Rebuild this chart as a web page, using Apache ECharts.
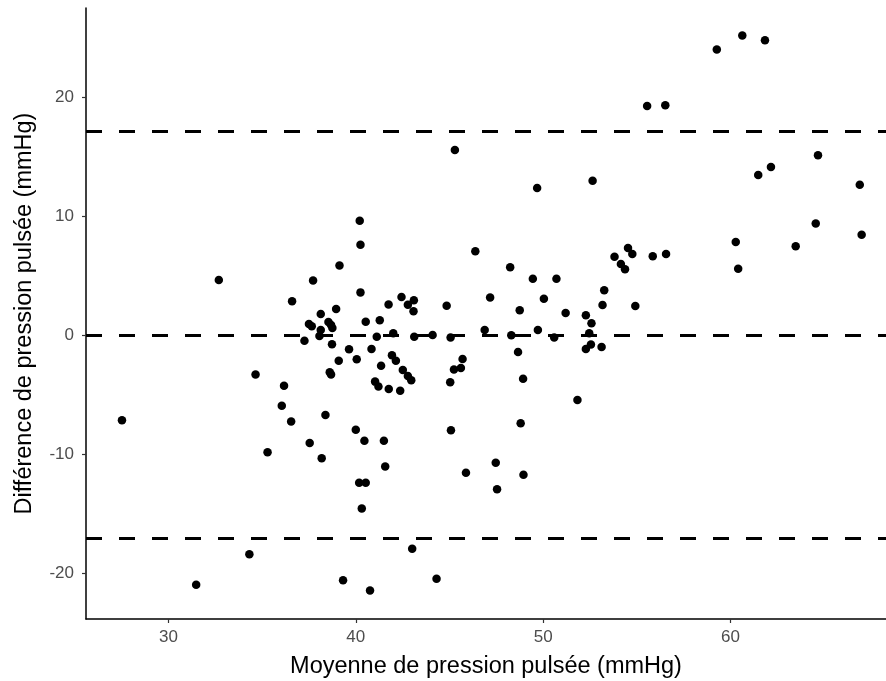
<!DOCTYPE html>
<html>
<head>
<meta charset="utf-8">
<script src="https://cdn.jsdelivr.net/npm/echarts@6/dist/echarts.min.js"></script>
<style>
html,body{margin:0;padding:0;background:#fff;}
#chart{width:886px;height:681px;}
</style>
</head>
<body>
<div id="chart"></div>
<script>
// Mean of pulse pressure (x) and difference (y)
const meanPP = [
  32.69, 34.65, 27.52, 35.29,
  40.21, 40.25, 39.13, 37.72, 40.25, 36.60, 41.75, 42.44, 43.10, 42.78,
  43.08, 38.95, 38.13, 44.85, 46.38, 37.50, 37.65, 38.54, 38.68, 38.75,
  38.13, 38.06, 40.53, 41.28, 41.12, 42.00, 43.12, 44.10, 45.06, 37.26,
  38.73, 39.64, 40.84, 40.05, 39.09, 41.93, 42.14, 41.35, 42.51, 42.78,
  42.96, 38.61, 38.68, 41.03, 41.21, 41.76, 42.37, 45.70, 45.24, 45.61,
  45.04, 36.17, 36.05, 36.55, 38.38, 40.00, 40.46, 41.50, 37.54, 45.08,
  48.24, 49.45, 50.71, 50.04, 47.17, 48.75, 51.20, 52.28, 52.58, 53.17,
  53.26, 53.81, 54.53, 54.76, 54.15, 54.37, 54.92, 46.88, 49.72, 48.30,
  50.59, 52.46, 52.55, 52.28, 53.12, 48.66, 48.93, 51.83, 48.80,
  59.27, 60.63, 61.84, 55.55, 56.52, 64.67, 62.16, 61.48, 66.90, 52.64,
  64.55, 67.00, 63.48, 60.28, 60.41, 55.85, 56.56,
  38.18, 41.57, 40.18, 40.53, 40.32, 45.88, 47.47, 47.54, 48.95, 34.32,
  31.48, 39.32, 40.76, 43.01, 44.31,
  45.29, 49.68
];
const diffPP = [
  4.62, -3.33, -7.17, -9.86,
  9.61, 7.59, 5.83, 4.57, 3.58, 2.83, 2.57, 3.19, 2.91, 2.55,
  1.99, 2.18, 1.76, 2.46, 7.03, 0.92, 0.73, 1.09, 0.84, 0.59,
  0.42, -0.08, 1.12, 1.23, -0.14, 0.14, -0.14, 0.00, -0.22, -0.48,
  -0.78, -1.20, -1.18, -2.04, -2.16, -1.71, -2.16, -2.58, -2.94, -3.45,
  -3.81, -3.14, -3.33, -3.92, -4.34, -4.54, -4.68, -2.02, -2.91, -2.77,
  -3.98, -4.26, -5.94, -7.28, -6.72, -7.96, -8.88, -8.88, -9.08, -8.01,
  5.69, 4.73, 4.73, 3.05, 3.14, 2.07, 1.85, 1.65, 0.98, 2.52,
  3.75, 6.58, 7.31, 6.81, 5.97, 5.52, 2.44, 0.42, 0.42, -0.03,
  -0.22, 0.14, -0.81, -1.18, -1.01, -1.43, -3.67, -5.46, -7.42,
  24.00, 25.16, 24.76, 19.24, 19.30, 15.10, 14.12, 13.45, 12.63, 12.97,
  9.36, 8.43, 7.45, 7.82, 5.57, 6.61, 6.81,
  -10.36, -11.06, -12.41, -12.41, -14.59, -11.57, -10.73, -12.97, -11.74, -18.43,
  -21.00, -20.62, -21.48, -17.96, -20.48,
  15.55, 12.35
];
// Reference lines: bias and limits of agreement
const refLines = [17.1, 0, -17.05];
const xTicks = [30, 40, 50, 60];
const yTicks = [-20, -10, 0, 10, 20];

const points = meanPP.map((x, i) => [x, diffPP[i]]);

const chart = echarts.init(document.getElementById('chart'), null, {renderer: 'canvas'});
const axisFont = 'Liberation Sans, Arial, sans-serif';
chart.setOption({
  animation: false,
  backgroundColor: '#ffffff',
  grid: {left: 86, right: 0, top: 8, bottom: 62, containLabel: false, outerBoundsMode: 'none'},
  xAxis: {
    type: 'value',
    min: 25.6, max: 68.3,
    name: 'Moyenne de pression pulsée (mmHg)',
    nameLocation: 'middle',
    nameGap: 36,
    nameTextStyle: {color: '#000', fontSize: 23.5, fontFamily: axisFont},
    splitLine: {show: false},
    axisLine: {show: true, onZero: false, lineStyle: {color: '#000', width: 1.5}},
    axisTick: {show: true, length: 4, customValues: xTicks, lineStyle: {color: '#333', width: 1.2}},
    axisLabel: {customValues: xTicks, color: '#4d4d4d', fontSize: 17, fontFamily: axisFont, margin: 10}
  },
  yAxis: {
    type: 'value',
    min: -23.87, max: 27.48,
    name: 'Différence de pression pulsée (mmHg)',
    nameLocation: 'middle',
    nameGap: 49,
    nameTextStyle: {color: '#000', fontSize: 23.5, fontFamily: axisFont},
    splitLine: {show: false},
    axisLine: {show: true, onZero: false, lineStyle: {color: '#000', width: 1.5}},
    axisTick: {show: true, length: 4, customValues: yTicks, lineStyle: {color: '#333', width: 1.2}},
    axisLabel: {customValues: yTicks, color: '#4d4d4d', fontSize: 17, fontFamily: axisFont, margin: 12}
  },
  series: [{
    type: 'scatter',
    data: points,
    symbol: 'circle',
    symbolSize: 8.5,
    itemStyle: {color: '#000', opacity: 1},
    markLine: {
      silent: true,
      symbol: ['none', 'none'],
      label: {show: false},
      lineStyle: {color: '#000', width: 3, type: [16, 17]},
      data: refLines.map(v => ({yAxis: v}))
    }
  }]
});
</script>
</body>
</html>
